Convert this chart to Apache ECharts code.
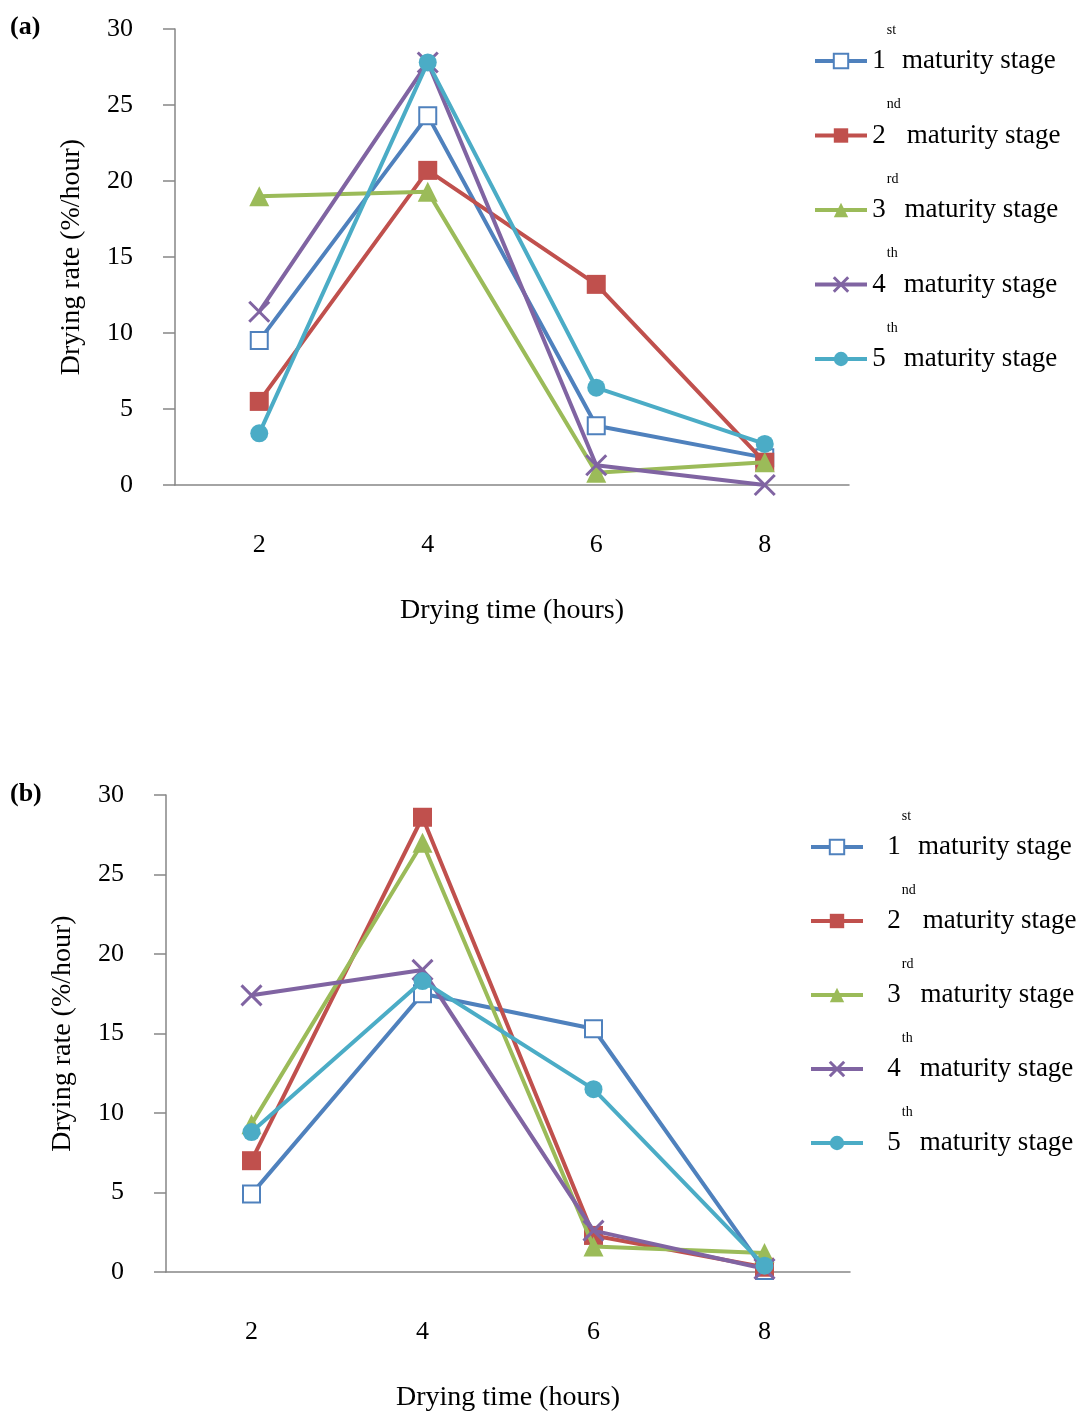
<!DOCTYPE html>
<html><head><meta charset="utf-8">
<script src="https://cdn.jsdelivr.net/npm/echarts@6/dist/echarts.min.js"></script>
<style>html,body{margin:0;padding:0;background:#fff}#c{width:1086px;height:1413px}</style>
</head><body><div id="c"></div>
<script>
// ---- data ----
const categories = ['2', '4', '6', '8'];
const stageNums = ['1', '2', '3', '4', '5'];
const stageSups = ['st', 'nd', 'rd', 'th', 'th'];
const yTicks = [0, 5, 10, 15, 20, 25, 30];

// panel (a)
const a_stage1 = [9.5, 24.3, 3.9, 1.8];
const a_stage2 = [5.5, 20.7, 13.2, 1.5];
const a_stage3 = [19.0, 19.3, 0.8, 1.5];
const a_stage4 = [11.4, 27.8, 1.3, 0.0];
const a_stage5 = [3.4, 27.8, 6.4, 2.7];

// panel (b)
const b_stage1 = [4.9, 17.5, 15.3, 0.1];
const b_stage2 = [7.0, 28.6, 2.3, 0.3];
const b_stage3 = [9.3, 27.0, 1.6, 1.2];
const b_stage4 = [17.4, 19.0, 2.6, 0.2];
const b_stage5 = [8.8, 18.3, 11.5, 0.4];

// ---- styling ----
const FONT = '"Liberation Serif", "Times New Roman", serif';
const colors = ['#4F81BD', '#C0504D', '#9BBB59', '#8064A2', '#4BACC6'];
const names = stageNums.map((n, i) => n + stageSups[i] + ' maturity stage');
const symbols = ['emptyRect', 'rect', 'triangle', 'path://M0,0L10,10M10,0L0,10', 'circle'];
const symbolSizes = [17, 19, 20, 20, 18];
const borderWidths = [3, 0, 0, 3, 0];
const axisColor = '#868686';

function makeSeries(dataArr, gi) {
  return dataArr.map((d, i) => ({
    name: names[i],
    type: 'line',
    xAxisIndex: gi, yAxisIndex: gi,
    data: d,
    symbol: symbols[i],
    symbolSize: symbolSizes[i],
    showAllSymbol: true,
    lineStyle: { color: colors[i], width: 4 },
    itemStyle: { color: colors[i], borderColor: colors[i], borderWidth: borderWidths[i] },
    emphasis: { disabled: true },
    animation: false,
    z: 2 + i
  }));
}

function legendCfg(left, top, numPad, txtPad, gap) {
  const rich = {
    sp: { fontFamily: FONT, fontSize: 1, lineHeight: 76 },
    num: { fontFamily: FONT, fontSize: 27, lineHeight: 28, color: '#000', padding: [0, 0, 0, numPad] },
    sup: { fontFamily: FONT, fontSize: 14, lineHeight: 16, color: '#000', verticalAlign: 'top', padding: [0, 0, 0, 1] },
    txt: { fontFamily: FONT, fontSize: 27, lineHeight: 28, color: '#000', padding: [0, 0, 0, txtPad] }
  };
  return {
    orient: 'vertical', left: left, top: top, padding: 0,
    itemWidth: 52, itemHeight: 18, itemGap: gap,
    data: names.map((n, i) => ({
      name: n,
      itemStyle: { borderWidth: i === 3 ? 3 : 0 }
    })),
    lineStyle: { width: 4 },
    selectedMode: false,
    formatter: function (name) {
      const i = names.indexOf(name);
      return '{sp| }{num|' + stageNums[i] + '}{sup|' + stageSups[i] + '}{txt|maturity stage}';
    },
    textStyle: { rich: rich }
  };
}

function yAxisCfg(gi, nameGap) {
  return {
    gridIndex: gi, type: 'value', min: 0, max: 30, interval: 5,
    name: 'Drying rate (%/hour)', nameLocation: 'middle', nameGap: nameGap,
    nameTextStyle: { fontFamily: FONT, fontSize: 28, color: '#000' },
    axisLine: { show: true, lineStyle: { color: axisColor, width: 1.5 } },
    axisTick: { show: true, length: 12, lineStyle: { color: axisColor, width: 1.5 } },
    splitLine: { show: false },
    axisLabel: { margin: 42, fontFamily: FONT, fontSize: 26, color: '#000',
      formatter: v => (yTicks.indexOf(v) >= 0 ? String(v) : '') }
  };
}

function xAxisCfg(gi) {
  return {
    gridIndex: gi, type: 'category', data: categories, boundaryGap: true,
    name: 'Drying time (hours)', nameLocation: 'middle', nameGap: 112,
    nameTextStyle: { fontFamily: FONT, fontSize: 28, color: '#000' },
    axisLine: { show: true, lineStyle: { color: axisColor, width: 1.5 } },
    axisTick: { show: false },
    splitLine: { show: false },
    axisLabel: { margin: 47, fontFamily: FONT, fontSize: 26, color: '#000' }
  };
}

const chart = echarts.init(document.getElementById('c'), null, { renderer: 'canvas' });
chart.setOption({
  backgroundColor: '#fff',
  animation: false,
  title: [
    { text: '(a)', left: 10, top: 14, padding: 0, textStyle: { fontFamily: FONT, fontSize: 26, fontWeight: 'bold', color: '#000' } },
    { text: '(b)', left: 10, top: 781, padding: 0, textStyle: { fontFamily: FONT, fontSize: 26, fontWeight: 'bold', color: '#000' } }
  ],
  grid: [
    { left: 175, top: 29, width: 674, height: 456 },
    { left: 166, top: 795, width: 684, height: 478 }
  ],
  legend: [legendCfg(813, 23, 0, 6, 23), legendCfg(809, 809, 19, 7, 22.5)],
  xAxis: [xAxisCfg(0), xAxisCfg(1)],
  yAxis: [yAxisCfg(0, 89), yAxisCfg(1, 89)],
  series: [].concat(
    makeSeries([a_stage1, a_stage2, a_stage3, a_stage4, a_stage5], 0),
    makeSeries([b_stage1, b_stage2, b_stage3, b_stage4, b_stage5], 1)
  )
});
</script>
</body></html>
